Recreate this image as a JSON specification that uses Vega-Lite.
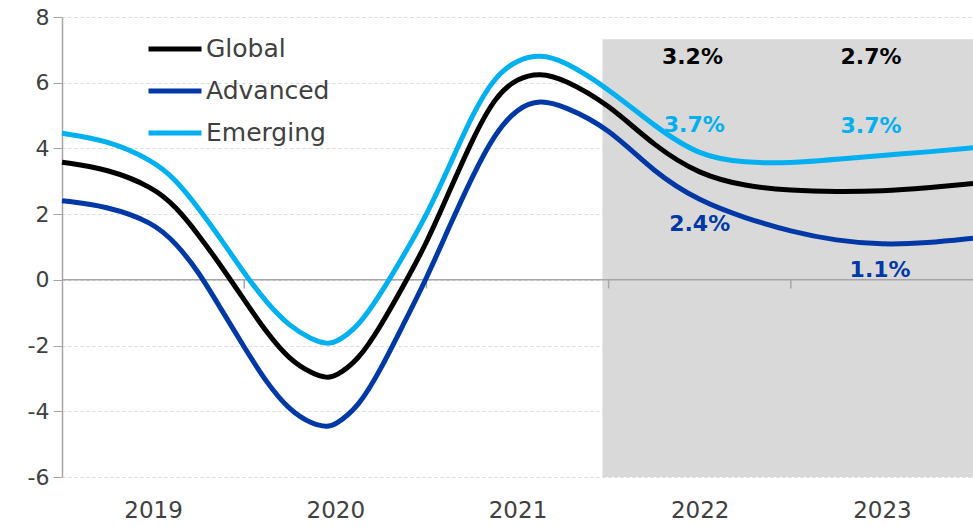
{
  "$schema": "https://vega.github.io/schema/vega-lite/v6.json",
  "width": 911,
  "height": 460,
  "autosize": {"type": "none"},
  "padding": {"left": 62, "top": 17, "right": 0, "bottom": 50},
  "background": "white",
  "config": {
    "view": {"stroke": null},
    "font": "DejaVu Sans"
  },
  "datasets": {
    "growth": [
      {"year": 2018.5, "series": "Global", "value": 3.58},
      {"year": 2018.75, "series": "Global", "value": 3.38},
      {"year": 2019.0, "series": "Global", "value": 2.82},
      {"year": 2019.125, "series": "Global", "value": 2.23},
      {"year": 2019.25, "series": "Global", "value": 1.37},
      {"year": 2019.375, "series": "Global", "value": 0.41},
      {"year": 2019.5, "series": "Global", "value": -0.61},
      {"year": 2019.625, "series": "Global", "value": -1.62},
      {"year": 2019.75, "series": "Global", "value": -2.44},
      {"year": 2019.875, "series": "Global", "value": -2.86},
      {"year": 2019.955, "series": "Global", "value": -2.99},
      {"year": 2020.0, "series": "Global", "value": -2.94},
      {"year": 2020.125, "series": "Global", "value": -2.46},
      {"year": 2020.25, "series": "Global", "value": -1.4},
      {"year": 2020.375, "series": "Global", "value": -0.17},
      {"year": 2020.5, "series": "Global", "value": 1.1},
      {"year": 2020.625, "series": "Global", "value": 2.68},
      {"year": 2020.75, "series": "Global", "value": 4.25},
      {"year": 2020.875, "series": "Global", "value": 5.57},
      {"year": 2021.0, "series": "Global", "value": 6.15},
      {"year": 2021.125, "series": "Global", "value": 6.3},
      {"year": 2021.25, "series": "Global", "value": 6.12},
      {"year": 2021.5, "series": "Global", "value": 5.35},
      {"year": 2021.75, "series": "Global", "value": 4.07},
      {"year": 2022.0, "series": "Global", "value": 3.2},
      {"year": 2022.25, "series": "Global", "value": 2.85},
      {"year": 2022.5, "series": "Global", "value": 2.72},
      {"year": 2022.75, "series": "Global", "value": 2.68},
      {"year": 2023.0, "series": "Global", "value": 2.7},
      {"year": 2023.25, "series": "Global", "value": 2.8},
      {"year": 2023.5, "series": "Global", "value": 2.93},
      {"year": 2018.5, "series": "Advanced", "value": 2.41},
      {"year": 2018.75, "series": "Advanced", "value": 2.24},
      {"year": 2019.0, "series": "Advanced", "value": 1.75},
      {"year": 2019.125, "series": "Advanced", "value": 1.12},
      {"year": 2019.25, "series": "Advanced", "value": 0.25},
      {"year": 2019.375, "series": "Advanced", "value": -0.91},
      {"year": 2019.5, "series": "Advanced", "value": -2.05},
      {"year": 2019.625, "series": "Advanced", "value": -3.15},
      {"year": 2019.75, "series": "Advanced", "value": -3.98},
      {"year": 2019.875, "series": "Advanced", "value": -4.4},
      {"year": 2019.955, "series": "Advanced", "value": -4.48},
      {"year": 2020.0, "series": "Advanced", "value": -4.41},
      {"year": 2020.125, "series": "Advanced", "value": -3.89},
      {"year": 2020.25, "series": "Advanced", "value": -2.72},
      {"year": 2020.375, "series": "Advanced", "value": -1.34},
      {"year": 2020.5, "series": "Advanced", "value": 0.03},
      {"year": 2020.625, "series": "Advanced", "value": 1.61},
      {"year": 2020.75, "series": "Advanced", "value": 3.13},
      {"year": 2020.875, "series": "Advanced", "value": 4.46},
      {"year": 2021.0, "series": "Advanced", "value": 5.24},
      {"year": 2021.125, "series": "Advanced", "value": 5.48},
      {"year": 2021.25, "series": "Advanced", "value": 5.3},
      {"year": 2021.5, "series": "Advanced", "value": 4.63},
      {"year": 2021.75, "series": "Advanced", "value": 3.26},
      {"year": 2022.0, "series": "Advanced", "value": 2.39},
      {"year": 2022.25, "series": "Advanced", "value": 1.88},
      {"year": 2022.5, "series": "Advanced", "value": 1.47},
      {"year": 2022.75, "series": "Advanced", "value": 1.19},
      {"year": 2023.0, "series": "Advanced", "value": 1.07},
      {"year": 2023.25, "series": "Advanced", "value": 1.12},
      {"year": 2023.5, "series": "Advanced", "value": 1.27},
      {"year": 2018.5, "series": "Emerging", "value": 4.46},
      {"year": 2018.75, "series": "Emerging", "value": 4.25},
      {"year": 2019.0, "series": "Emerging", "value": 3.63},
      {"year": 2019.125, "series": "Emerging", "value": 3.05},
      {"year": 2019.25, "series": "Emerging", "value": 2.18},
      {"year": 2019.375, "series": "Emerging", "value": 1.22},
      {"year": 2019.5, "series": "Emerging", "value": 0.2},
      {"year": 2019.625, "series": "Emerging", "value": -0.71},
      {"year": 2019.75, "series": "Emerging", "value": -1.42},
      {"year": 2019.875, "series": "Emerging", "value": -1.83},
      {"year": 2019.955, "series": "Emerging", "value": -1.95},
      {"year": 2020.0, "series": "Emerging", "value": -1.92},
      {"year": 2020.125, "series": "Emerging", "value": -1.44},
      {"year": 2020.25, "series": "Emerging", "value": -0.42},
      {"year": 2020.375, "series": "Emerging", "value": 0.74},
      {"year": 2020.5, "series": "Emerging", "value": 1.96},
      {"year": 2020.625, "series": "Emerging", "value": 3.44},
      {"year": 2020.75, "series": "Emerging", "value": 5.02},
      {"year": 2020.875, "series": "Emerging", "value": 6.19},
      {"year": 2021.0, "series": "Emerging", "value": 6.71},
      {"year": 2021.125, "series": "Emerging", "value": 6.86},
      {"year": 2021.25, "series": "Emerging", "value": 6.68},
      {"year": 2021.5, "series": "Emerging", "value": 5.82},
      {"year": 2021.75, "series": "Emerging", "value": 4.68},
      {"year": 2022.0, "series": "Emerging", "value": 3.76},
      {"year": 2022.25, "series": "Emerging", "value": 3.56},
      {"year": 2022.5, "series": "Emerging", "value": 3.55},
      {"year": 2022.75, "series": "Emerging", "value": 3.67},
      {"year": 2023.0, "series": "Emerging", "value": 3.79},
      {"year": 2023.25, "series": "Emerging", "value": 3.89},
      {"year": 2023.5, "series": "Emerging", "value": 4.02}
    ],
    "labels": [
      {"year": 2021.96, "value": 6.77, "series": "Global", "text": "3.2%"},
      {"year": 2022.94, "value": 6.77, "series": "Global", "text": "2.7%"},
      {"year": 2021.97, "value": 4.7, "series": "Emerging", "text": "3.7%"},
      {"year": 2022.94, "value": 4.67, "series": "Emerging", "text": "3.7%"},
      {"year": 2022.0, "value": 1.71, "series": "Advanced", "text": "2.4%"},
      {"year": 2022.99, "value": 0.3, "series": "Advanced", "text": "1.1%"}
    ],
    "shade": [{"start": 2021.466, "end": 2023.5, "low": -6, "high": 7.32}],
    "ticks": [{"year": 2019.5}, {"year": 2020.5}, {"year": 2021.5}, {"year": 2022.5}],
    "zero": [{"level": 0}]
  },
  "layer": [
    {
      "data": {"name": "shade"},
      "mark": {"type": "rect", "color": "#D9D9D9"},
      "encoding": {
        "x": {
          "field": "start",
          "type": "quantitative",
          "scale": {"domain": [2018.5, 2023.5], "nice": false, "zero": false},
          "axis": {
            "title": null,
            "values": [2019, 2020, 2021, 2022, 2023],
            "format": "d",
            "domain": false,
            "ticks": false,
            "grid": false,
            "labelFontSize": 23,
            "labelColor": "#404040",
            "labelPadding": 22
          }
        },
        "x2": {"field": "end"},
        "y": {
          "field": "low",
          "type": "quantitative",
          "scale": {"domain": [-6, 8], "nice": false, "zero": false},
          "axis": {
            "title": null,
            "values": [-6, -4, -2, 0, 2, 4, 6, 8],
            "labelExpr": "toString(datum.value)",
            "grid": true,
            "gridColor": "#D9D9D9",
            "gridDash": [3, 3],
            "domainColor": "#A6A6A6",
            "domainWidth": 1.5,
            "tickColor": "#A6A6A6",
            "tickSize": 9,
            "labelFontSize": 22,
            "labelColor": "#404040",
            "labelPadding": 4
          }
        },
        "y2": {"field": "high"}
      }
    },
    {
      "data": {"name": "zero"},
      "mark": {"type": "rule", "color": "#A6A6A6", "strokeWidth": 1.5},
      "encoding": {"y": {"field": "level", "type": "quantitative"}}
    },
    {
      "data": {"name": "ticks"},
      "mark": {"type": "rule", "color": "#A6A6A6", "strokeWidth": 1.5},
      "encoding": {
        "x": {"field": "year", "type": "quantitative"},
        "y": {"datum": 0},
        "y2": {"datum": -0.26}
      }
    },
    {
      "data": {"name": "growth"},
      "mark": {"type": "line", "interpolate": "basis", "strokeWidth": 5},
      "encoding": {
        "x": {"field": "year", "type": "quantitative"},
        "y": {"field": "value", "type": "quantitative"},
        "color": {
          "field": "series",
          "type": "nominal",
          "scale": {"domain": ["Global", "Advanced", "Emerging"], "range": ["#000000", "#0039A6", "#00B0F0"]},
          "legend": {
            "title": null,
            "orient": "none",
            "legendX": 84,
            "legendY": 3,
            "symbolType": "stroke",
            "symbolSize": 2809,
            "symbolStrokeWidth": 5,
            "labelFontSize": 25,
            "labelColor": "#404040",
            "labelOffset": 2,
            "rowPadding": -15
          }
        }
      }
    },
    {
      "data": {"name": "labels"},
      "mark": {"type": "text", "fontSize": 22, "fontWeight": "bold", "align": "center", "baseline": "middle"},
      "encoding": {
        "x": {"field": "year", "type": "quantitative"},
        "y": {"field": "value", "type": "quantitative"},
        "text": {"field": "text"},
        "color": {"field": "series", "type": "nominal"}
      }
    }
  ]
}
